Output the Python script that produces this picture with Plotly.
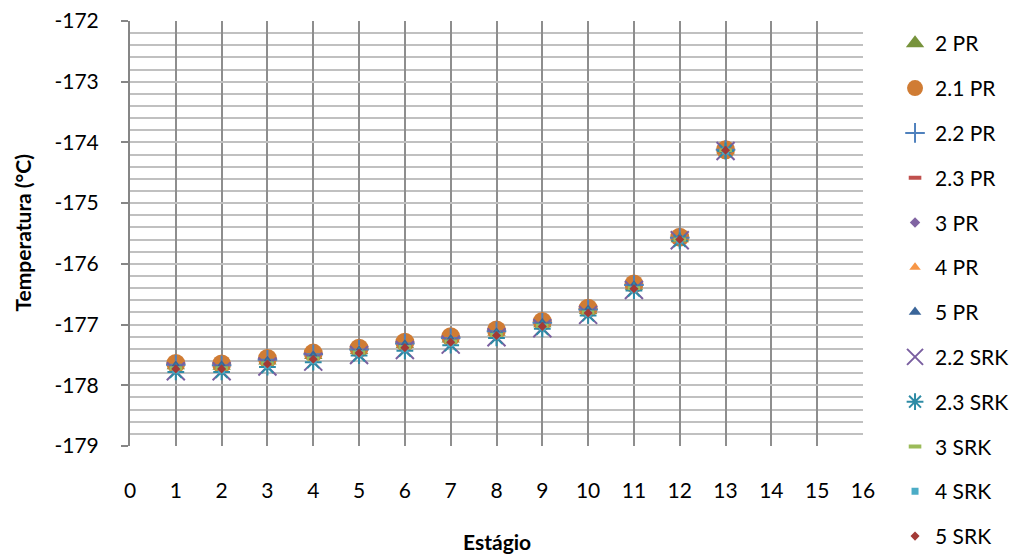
import plotly.graph_objects as go

stages = list(range(1, 14))

pr_2   = [-177.67, -177.68, -177.59, -177.50, -177.42, -177.32, -177.23, -177.12, -176.98, -176.76, -176.36, -175.58, -174.13]
pr_21  = [-177.64, -177.65, -177.56, -177.47, -177.39, -177.29, -177.20, -177.09, -176.95, -176.73, -176.33, -175.56, -174.12]
pr_22  = [-177.66, -177.67, -177.58, -177.49, -177.41, -177.31, -177.22, -177.11, -176.97, -176.75, -176.35, -175.57, -174.12]
pr_23  = [-177.70, -177.70, -177.62, -177.53, -177.45, -177.35, -177.26, -177.15, -177.00, -176.78, -176.38, -175.58, -174.12]
pr_3   = [-177.69, -177.69, -177.61, -177.52, -177.44, -177.34, -177.25, -177.14, -176.99, -176.77, -176.37, -175.58, -174.13]
pr_4   = [-177.67, -177.68, -177.59, -177.50, -177.42, -177.32, -177.23, -177.12, -176.98, -176.76, -176.36, -175.58, -174.13]
pr_5   = [-177.68, -177.68, -177.60, -177.51, -177.43, -177.33, -177.24, -177.13, -176.98, -176.76, -176.36, -175.58, -174.13]
srk_22 = [-177.77, -177.77, -177.69, -177.61, -177.50, -177.42, -177.33, -177.21, -177.06, -176.84, -176.43, -175.61, -174.14]
srk_23 = [-177.78, -177.78, -177.70, -177.62, -177.51, -177.43, -177.34, -177.22, -177.07, -176.85, -176.44, -175.62, -174.14]
srk_3  = [-177.72, -177.72, -177.64, -177.56, -177.46, -177.37, -177.28, -177.17, -177.02, -176.80, -176.40, -175.60, -174.13]
srk_4  = [-177.75, -177.75, -177.67, -177.59, -177.48, -177.40, -177.31, -177.19, -177.04, -176.82, -176.42, -175.61, -174.14]
srk_5  = [-177.73, -177.73, -177.65, -177.57, -177.47, -177.38, -177.29, -177.18, -177.03, -176.81, -176.41, -175.60, -174.13]

series_names = ["2 PR", "2.1 PR", "2.2 PR", "2.3 PR", "3 PR", "4 PR", "5 PR",
                "2.2 SRK", "2.3 SRK", "3 SRK", "4 SRK", "5 SRK"]
series_values = [pr_2, pr_21, pr_22, pr_23, pr_3, pr_4, pr_5,
                 srk_22, srk_23, srk_3, srk_4, srk_5]

x_ticks = list(range(0, 17))
y_ticks = list(range(-179, -171))
y_ticklabels = [str(v) for v in y_ticks]

styles = [
    dict(symbol="triangle-up", size=16, color="#77933C"),
    dict(symbol="circle", size=19, color="#D07C34"),
    dict(symbol="cross-thin-open", size=14, color="#4F81BD", line=dict(width=2, color="#4F81BD")),
    dict(symbol="line-ew-open", size=9, color="#C0504D", line=dict(width=4, color="#C0504D")),
    dict(symbol="diamond", size=8, color="#8064A2"),
    dict(symbol="triangle-up", size=10, color="#F79646"),
    dict(symbol="triangle-up", size=11, color="#3A6599"),
    dict(symbol="x-thin-open", size=18, color="#7A5FA0", line=dict(width=2, color="#7A5FA0")),
    dict(symbol="asterisk-open", size=14, color="#2E8BA5", line=dict(width=2, color="#2E8BA5")),
    dict(symbol="line-ew-open", size=9, color="#9BBB59", line=dict(width=4, color="#9BBB59")),
    dict(symbol="square", size=7, color="#4BACC6"),
    dict(symbol="diamond", size=7, color="#A33A36"),
]

FONT = "Lato"
fig = go.Figure()
for i, (name, vals, st) in enumerate(zip(series_names, series_values, styles)):
    marker = dict(symbol=st["symbol"], size=st["size"], color=st["color"])
    if "line" in st:
        marker["line"] = st["line"]
    else:
        marker["line"] = dict(width=0)
    fig.add_trace(go.Scatter(x=stages, y=vals, mode="markers", name=name,
                             marker=marker, legendgroup=f"g{i}"))

fig.update_layout(
    width=1016, height=558,
    margin=dict(l=130, r=153, t=21, b=112, autoexpand=False),
    paper_bgcolor="white", plot_bgcolor="white",
    font=dict(family=FONT, size=21, color="black"),
    showlegend=True,
    legend=dict(x=1.0437, xanchor="left", y=0.995, yanchor="top",
                traceorder="grouped", tracegroupgap=14.5, maxheight=600,
                font=dict(family=FONT, size=21, color="black"),
                bgcolor="rgba(0,0,0,0)", borderwidth=0),
    xaxis=dict(range=[0, 16], tickmode="array", tickvals=x_ticks,
               showgrid=True, gridcolor="#8E8E8E", gridwidth=2,
               zeroline=False, showline=False,
               ticks="", ticklabelstandoff=30,
               tickfont=dict(family=FONT, size=21, color="black")),
    yaxis=dict(range=[-179, -172], tickmode="array", tickvals=y_ticks,
               ticktext=y_ticklabels,
               showgrid=True, gridcolor="#C0C0C0", gridwidth=2,
               minor=dict(tickmode="linear", tick0=-179, dtick=0.2,
                          showgrid=True, gridcolor="#C0C0C0", gridwidth=2),
               zeroline=False, showline=True, linecolor="#868686", linewidth=2,
               ticks="outside", ticklen=7, tickwidth=1.5, tickcolor="#868686",
               ticklabelstandoff=18,
               tickfont=dict(family=FONT, size=21, color="black")),
    annotations=[
        dict(text="<b>Estágio</b>", xref="paper", yref="paper", x=0.5, y=(446 - 541) / 425,
             xanchor="center", yanchor="middle", showarrow=False,
             font=dict(family=FONT, size=21, color="black")),
        dict(text="<b>Temperatura (°C)</b>", xref="paper", yref="paper",
             x=(22 - 130) / 733, y=0.5, textangle=-90,
             xanchor="center", yanchor="middle", showarrow=False,
             font=dict(family=FONT, size=21, color="black")),
    ],
)

fig.write_html("out.html")
